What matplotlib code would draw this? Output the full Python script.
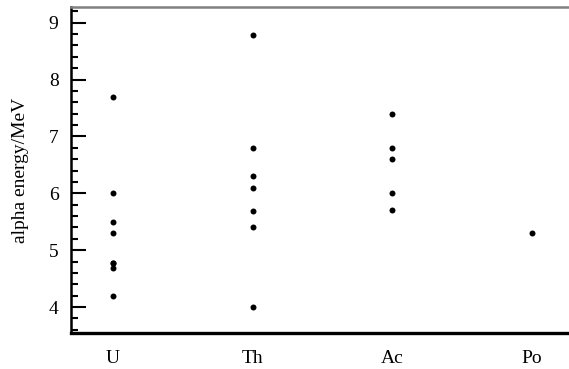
import numpy as np
import matplotlib.pyplot as plt
from matplotlib.ticker import MultipleLocator

plt.rcParams['font.family'] = ['Liberation Serif', 'DejaVu Serif']

series = ['U', 'Th', 'Ac', 'Po']
u_energy = [4.2, 4.69, 4.77, 4.78, 5.3, 5.49, 6.0, 7.69]
th_energy = [4.0, 5.4, 5.69, 6.1, 6.31, 6.8, 8.79]
ac_energy = [5.7, 6.0, 6.6, 6.8, 7.39]
po_energy = [5.3]

groups = [u_energy, th_energy, ac_energy, po_energy]

fig = plt.figure(figsize=(5.69, 3.69), dpi=100)
ax = fig.add_axes([0.1248, 0.0976, 0.8752, 0.884])

for i, vals in enumerate(groups):
    ax.plot([i] * len(vals), vals, 'o', color='black', ms=4.3, mew=0)

ax.set_xlim(-0.30, 3.265)
ax.set_ylim(3.544, 9.28)
ax.set_xticks(range(len(series)))
ax.set_xticklabels(series)
ax.tick_params(axis='x', length=0, labelsize=14, pad=12)

ax.yaxis.set_major_locator(MultipleLocator(1))
ax.yaxis.set_minor_locator(MultipleLocator(0.2))
ax.tick_params(axis='y', which='major', direction='in', length=11, width=1.5, labelsize=14, pad=9)
ax.tick_params(axis='y', which='minor', direction='in', length=5, width=1.5)
ax.set_ylabel('alpha energy/MeV', size=14, labelpad=14)

ax.spines['right'].set_visible(False)
ax.spines['top'].set_color('#808080')
ax.spines['top'].set_linewidth(1.8)
ax.spines['left'].set_linewidth(1.8)
ax.spines['bottom'].set_linewidth(2.4)

fig.savefig('out.png', dpi=100)
